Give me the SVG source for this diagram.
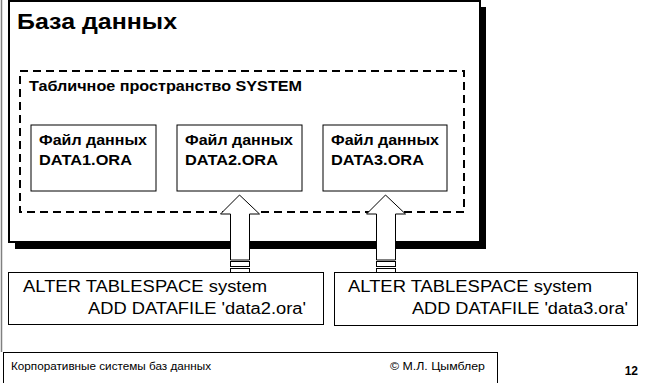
<svg xmlns="http://www.w3.org/2000/svg" width="645" height="383" viewBox="0 0 645 383">
<style>
text{font-family:"Liberation Sans",Arial,sans-serif;fill:#000}
.b{font-weight:bold}
.box{fill:#fff;stroke:#000;stroke-width:1}
.arrow{fill:#fff;stroke:#000;stroke-width:1}
</style>
<rect width="645" height="383" fill="#fff"/>
<line x1="1.5" y1="0" x2="1.5" y2="352" stroke="#808080" stroke-width="1.5"/>
<g id="database">
<rect x="15" y="7" width="471" height="242" fill="#000"/>
<rect x="9" y="1" width="471" height="241" fill="#fff" stroke="#000" stroke-width="2"/>
<text x="17" y="29" class="b" font-size="22" textLength="160" lengthAdjust="spacingAndGlyphs">База данных</text>
</g>
<g id="tablespace">
<rect x="20" y="71" width="444" height="141" fill="none" stroke="#000" stroke-width="2" stroke-dasharray="8,5"/>
<text x="29" y="91" class="b" font-size="14" textLength="273" lengthAdjust="spacingAndGlyphs">Табличное пространство SYSTEM</text>
</g>
<g id="file1">
<rect x="31" y="125" width="125" height="66" class="box"/>
<text x="39" y="145" class="b" font-size="14" textLength="108" lengthAdjust="spacingAndGlyphs">Файл данных</text>
<text x="39" y="165" class="b" font-size="14" textLength="93" lengthAdjust="spacingAndGlyphs">DATA1.ORA</text>
</g>
<g id="file2">
<rect x="177" y="125" width="125" height="66" class="box"/>
<text x="185" y="145" class="b" font-size="14" textLength="108" lengthAdjust="spacingAndGlyphs">Файл данных</text>
<text x="185" y="165" class="b" font-size="14" textLength="93" lengthAdjust="spacingAndGlyphs">DATA2.ORA</text>
</g>
<g id="file3">
<rect x="323" y="125" width="124" height="66" class="box"/>
<text x="331" y="145" class="b" font-size="14" textLength="108" lengthAdjust="spacingAndGlyphs">Файл данных</text>
<text x="331" y="165" class="b" font-size="14" textLength="93" lengthAdjust="spacingAndGlyphs">DATA3.ORA</text>
</g>
<g id="connectors">
<path class="arrow" d="M239.5,195 L259.5,214 L249.5,214 L249.5,260 L230.5,260 L230.5,214 L220.5,214 Z"/>
<rect class="arrow" x="230.5" y="261.5" width="19" height="5"/>
<rect class="arrow" x="230.5" y="268.5" width="19" height="4"/>
<path class="arrow" d="M385.5,195 L405.5,214 L395.5,214 L395.5,260 L376.5,260 L376.5,214 L366.5,214 Z"/>
<rect class="arrow" x="376.5" y="261.5" width="19" height="5"/>
<rect class="arrow" x="376.5" y="268.5" width="19" height="4"/>
</g>
<g id="cmd2">
<rect x="8.5" y="272.5" width="315" height="52" class="box"/>
<text x="23" y="292" font-size="16" textLength="244" lengthAdjust="spacingAndGlyphs">ALTER TABLESPACE system</text>
<text x="88" y="314" font-size="16" textLength="218" lengthAdjust="spacingAndGlyphs">ADD DATAFILE 'data2.ora'</text>
</g>
<g id="cmd3">
<rect x="334.5" y="272.5" width="303" height="53" class="box"/>
<text x="348" y="292" font-size="16" textLength="244" lengthAdjust="spacingAndGlyphs">ALTER TABLESPACE system</text>
<text x="412" y="314" font-size="16" textLength="216" lengthAdjust="spacingAndGlyphs">ADD DATAFILE 'data3.ora'</text>
</g>
<g id="footer">
<rect x="3.5" y="352.5" width="494" height="34" fill="none" stroke="#000" stroke-width="1"/>
<text x="11" y="370" font-size="10" textLength="200" lengthAdjust="spacingAndGlyphs">Корпоративные системы баз данных</text>
<text x="390" y="370" font-size="10" textLength="95" lengthAdjust="spacingAndGlyphs">© М.Л. Цымблер</text>
<text x="638" y="375" class="b" font-size="12" text-anchor="end">12</text>
</g>
</svg>
